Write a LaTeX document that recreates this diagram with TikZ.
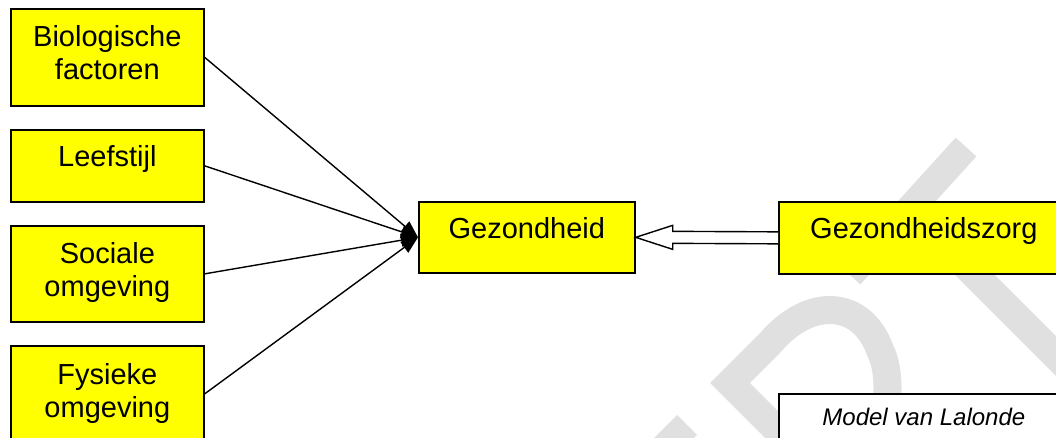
\documentclass[tikz,border=0pt]{standalone}
\usepackage{fontspec}
\setmainfont{Liberation Sans}
\usetikzlibrary{arrows.meta,calc}
\definecolor{boxyellow}{RGB}{255,255,0}
\definecolor{wmgray}{RGB}{224,224,224}
\begin{document}
\begin{tikzpicture}[x=1pt,y=-1pt,
  box/.style={draw=black, line width=1.7pt, fill=boxyellow, rectangle, inner sep=0pt, anchor=north west},
  lbl/.style={anchor=base, inner sep=0pt, font=\fontsize{29}{33}\selectfont},
  conn/.style={line width=1.4pt, -{Triangle[length=17pt,width=13pt]}},
  wm/.style={draw=wmgray, line width=28pt, line join=miter}]
\useasboundingbox (0,0) rectangle (1056,438);
\clip (0,0) rectangle (1056,438);
% watermark
\draw[wm] (966,147) -- (850,275);
\draw[wm] (930,230) -- (1120,420);
\draw[wm] (800,453) -- (730,383) -- (770,343) .. controls (810,296) and (862,300) .. (880,350) .. controls (890,370) and (890,400) .. (880,450);
\draw[wm] (687,425) -- (640,472);
% boxes
\node[box, minimum width=193pt, minimum height=97pt] (b1) at (10,8) {};
\node[box, minimum width=193pt, minimum height=72pt] (b2) at (10,129) {};
\node[box, minimum width=193pt, minimum height=96pt] (b3) at (10,225) {};
\node[box, minimum width=193pt, minimum height=96pt] (b4) at (10,345) {};
\node[box, minimum width=216pt, minimum height=71pt] (gh) at (418,201) {};
\node[box, minimum width=290pt, minimum height=72pt] (gzz) at (778,201) {};
\node[box, fill=white, minimum width=290pt, minimum height=70pt] (mod) at (778,393) {};
% texts
\node[lbl] (t1a) at ($(b1.north)+(0,39)$) {Biologische};
\node[lbl] (t1b) at ($(b1.north)+(0,72)$) {factoren};
\node[lbl] (t2) at ($(b2.north)+(0,38)$) {Leefstijl};
\node[lbl] (t3a) at ($(b3.north)+(0,38)$) {Sociale};
\node[lbl] (t3b) at ($(b3.north)+(0,71)$) {omgeving};
\node[lbl] (t4a) at ($(b4.north)+(0,39)$) {Fysieke};
\node[lbl] (t4b) at ($(b4.north)+(0,72)$) {omgeving};
\node[lbl] (tgh) at ($(gh.north)+(0,38)$) {Gezondheid};
\node[lbl] (tgzz) at ($(gzz.north)+(0,38)$) {Gezondheidszorg};
\node[anchor=base, inner sep=0pt, font=\fontsize{24}{28}\selectfont\itshape] (tmod) at ($(mod.north)+(0,32)$) {Model van Lalonde};
% connectors
\draw[conn] (b1.east) -- (gh.west);
\draw[conn] (b2.east) -- (gh.west);
\draw[conn] (b3.east) -- (gh.west);
\draw[conn] (b4.east) -- (gh.west);
\draw[line width=1.4pt, fill=white, line join=miter]
  ($(gzz.west)+(0,-6)$) -- ($(gh.east)+(37,-6)$) -- ($(gh.east)+(37,-12)$) -- (gh.east)
  -- ($(gh.east)+(37,12)$) -- ($(gh.east)+(37,6)$) -- ($(gzz.west)+(0,6)$);
\end{tikzpicture}
\end{document}
